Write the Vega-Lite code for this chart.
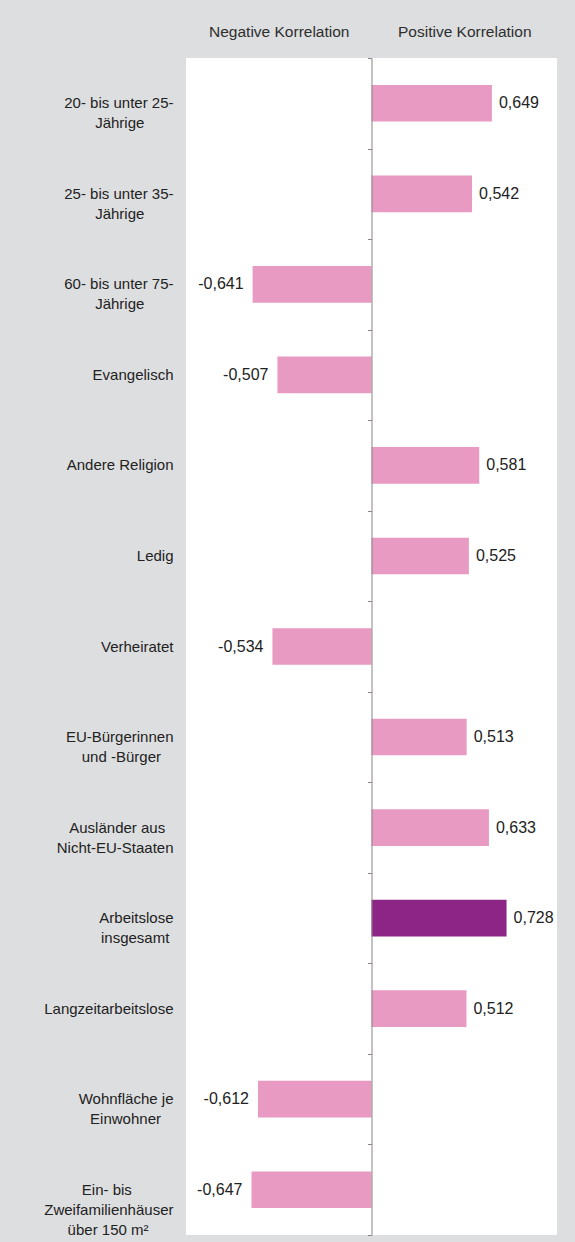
{
  "$schema": "https://vega.github.io/schema/vega-lite/v6.json",
  "autosize": {"type": "none"},
  "padding": {"left": 186, "top": 58, "right": 18, "bottom": 7},
  "width": 371,
  "height": 1177,
  "background": "#dddee0",
  "config": {
    "view": {"fill": "white", "stroke": null},
    "font": "Liberation Sans",
    "locale": {"number": {"decimal": ",", "thousands": ".", "grouping": [3], "currency": ["", " €"], "minus": "-"}}
  },
  "data": {
    "values": [
      {"k": "20- bis unter 25-Jährige", "r": 0.649},
      {"k": "25- bis unter 35-Jährige", "r": 0.542},
      {"k": "60- bis unter 75-Jährige", "r": -0.641},
      {"k": "Evangelisch", "r": -0.507},
      {"k": "Andere Religion", "r": 0.581},
      {"k": "Ledig", "r": 0.525},
      {"k": "Verheiratet", "r": -0.534},
      {"k": "EU-Bürgerinnen und -Bürger", "r": 0.513},
      {"k": "Ausländer aus Nicht-EU-Staaten", "r": 0.633},
      {"k": "Arbeitslose insgesamt", "r": 0.728},
      {"k": "Langzeitarbeitslose", "r": 0.512},
      {"k": "Wohnfläche je Einwohner", "r": -0.612},
      {"k": "Ein- bis Zweifamilienhäuser über 150 m²", "r": -0.647}
    ]
  },
  "layer": [
    {
      "mark": {"type": "bar", "height": {"band": 0.405}},
      "encoding": {
        "x": {
          "field": "r", "type": "quantitative",
          "scale": {"domain": [-1, 1], "nice": false},
          "axis": {
            "orient": "top", "values": [-0.5, 0.5],
            "labelExpr": "datum.value < 0 ? 'Negative Korrelation' : 'Positive Korrelation'",
            "ticks": false, "tickSize": 0, "domain": false, "grid": false, "title": null,
            "labelPadding": 27, "labelBaseline": "middle", "labelAlign": "center",
            "labelFontSize": 15.5, "labelColor": "#2e2e2e", "labelFont": "Liberation Sans"
          }
        },
        "y": {
          "field": "k", "type": "nominal", "sort": null,
          "scale": {
            "domain": ["20- bis unter 25-Jährige", "25- bis unter 35-Jährige", "60- bis unter 75-Jährige", "Evangelisch", "Andere Religion", "Ledig", "Verheiratet", "EU-Bürgerinnen und -Bürger", "Ausländer aus Nicht-EU-Staaten", "Arbeitslose insgesamt", "Langzeitarbeitslose", "Wohnfläche je Einwohner", "Ein- bis Zweifamilienhäuser über 150 m²"],
            "paddingInner": 0, "paddingOuter": 0
          },
          "axis": {
            "orient": "left", "title": null, "ticks": false, "tickSize": 0, "domain": false, "grid": false,
            "labelPadding": 13, "labelAlign": "right", "labelBaseline": "middle",
            "labelFontSize": 15, "labelColor": "#222222", "labelFont": "Liberation Sans",
            "labelLineHeight": 20, "labelLimit": 300,
            "labelExpr": "indexof(datum.label, 'Jährige') > 0 ? [replace(datum.label, 'Jährige', ''), 'Jährige\u00a0\u00a0\u00a0\u00a0\u00a0\u00a0\u00a0\u200b'] : datum.label === 'EU-Bürgerinnen und -Bürger' ? ['EU-Bürgerinnen', 'und -Bürger\u00a0\u00a0\u00a0\u200b'] : datum.label === 'Ausländer aus Nicht-EU-Staaten' ? ['Ausländer aus\u00a0\u00a0\u200b', 'Nicht-EU-Staaten'] : datum.label === 'Arbeitslose insgesamt' ? ['Arbeitslose', 'insgesamt\u00a0\u200b'] : datum.label === 'Wohnfläche je Einwohner' ? ['Wohnfläche je', 'Einwohner\u00a0\u00a0\u00a0\u200b'] : datum.label === 'Ein- bis Zweifamilienhäuser über 150 m²' ? ['Ein- bis\u00a0\u00a0\u00a0\u00a0\u00a0\u00a0\u00a0\u00a0\u00a0\u00a0\u200b', 'Zweifamilienhäuser', 'über 150 m²\u00a0\u00a0\u00a0\u00a0\u00a0\u00a0\u200b'] : datum.label"
          }
        },
        "color": {
          "condition": {"test": "datum.k === 'Arbeitslose insgesamt'", "value": "#8c2585"},
          "value": "#e89ac2"
        }
      }
    },
    {
      "transform": [{"filter": "datum.r > 0"}],
      "mark": {"type": "text", "align": "left", "baseline": "middle", "dx": 7, "fontSize": 16, "color": "#222222", "font": "Liberation Sans"},
      "encoding": {
        "x": {"field": "r", "type": "quantitative"},
        "y": {"field": "k", "type": "nominal", "sort": null, "axis": null},
        "text": {"field": "r", "type": "quantitative", "format": ".3f"}
      }
    },
    {
      "transform": [{"filter": "datum.r < 0"}],
      "mark": {"type": "text", "align": "right", "baseline": "middle", "dx": -9, "fontSize": 16, "color": "#222222", "font": "Liberation Sans"},
      "encoding": {
        "x": {"field": "r", "type": "quantitative"},
        "y": {
          "field": "k", "type": "nominal", "sort": null,
          "axis": {
            "orient": "left", "offset": -185.5, "title": null, "labels": false,
            "ticks": true, "tickSize": 4, "tickBand": "extent", "tickColor": "#8a8484", "tickWidth": 1,
            "domain": true, "domainColor": "#8a8484", "domainWidth": 1, "grid": false, "zindex": 1
          }
        },
        "text": {"field": "r", "type": "quantitative", "format": ".3f"}
      }
    }
  ],
  "resolve": {"axis": {"y": "independent"}}
}
